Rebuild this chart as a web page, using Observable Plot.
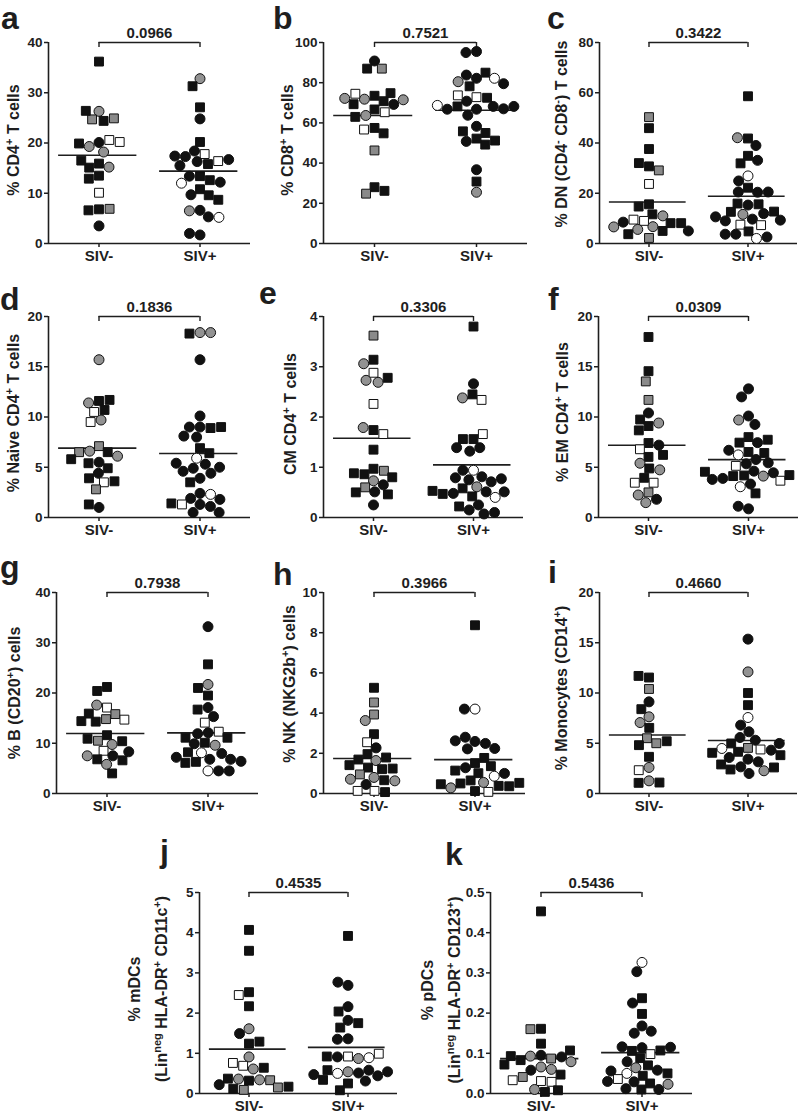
<!DOCTYPE html>
<html><head><meta charset="utf-8">
<script src="https://cdn.jsdelivr.net/npm/d3@7"></script>
<script src="https://cdn.jsdelivr.net/npm/@observablehq/plot@0.6"></script>
<style>
html,body{margin:0;padding:0;background:#fff;}
#root{position:relative;width:800px;height:1113px;overflow:hidden;font-family:"Liberation Sans",Arial,sans-serif;}
#overlay{position:absolute;left:0;top:0;pointer-events:none;}
</style></head><body><div id="root"></div>
<script>
// ---------- data ----------
const groups = ["SIV-", "SIV+"];
// marker kinds: B/G/W = black/gray/white fill, s/c = square/circle
const kinds = ["Bs", "Gs", "Ws", "Bc", "Gc", "Wc"];

const aNeg = [[36.2,"Bs"],[26.3,"Gc"],[24.7,"Gs"],[24.4,"Bs"],[24.9,"Gs"],[26.4,"Bs"],[20.1,"Bc"],[19.3,"Gc"],[20.6,"Ws"],[18.2,"Gc"],[19.9,"Bs"],[20.2,"Ws"],[15.9,"Bs"],[15.1,"Bs"],[15.2,"Gc"],[16.5,"Bs"],[13.5,"Bs"],[12.9,"Bs"],[10.1,"Ws"],[6.8,"Bs"],[6.6,"Bs"],[6.9,"Gs"],[3.5,"Bc"]];
const aPos = [[32.8,"Gc"],[31.3,"Bs"],[27.1,"Bs"],[24.8,"Bc"],[20.2,"Bs"],[18.4,"Bc"],[17.8,"Ws"],[17.3,"Bc"],[16.3,"Bc"],[15.8,"Bs"],[16.4,"Ws"],[15.5,"Bc"],[16.7,"Bc"],[17.4,"Bc"],[13.4,"Bs"],[13.4,"Bc"],[12.6,"Bs"],[12.0,"Wc"],[12.2,"Bc"],[10.8,"Bs"],[9.7,"Bc"],[9.6,"Bs"],[8.7,"Bs"],[6.6,"Bc"],[6.5,"Gc"],[5.3,"Bc"],[5.2,"Wc"],[1.7,"Bc"],[2.0,"Bc"]];

const bNeg = [[90.8,"Bc"],[87.0,"Bs"],[87.0,"Gs"],[73.5,"Bs"],[71.8,"Gc"],[70.8,"Bs"],[74.8,"Bs"],[74.5,"Ws"],[69.2,"Bc"],[69.3,"Bs"],[71.5,"Gc"],[72.2,"Gc"],[66.7,"Bs"],[63.7,"Gc"],[65.3,"Ws"],[63.0,"Bs"],[57.5,"Bs"],[56.7,"Ws"],[54.8,"Bs"],[46.3,"Gs"],[28.0,"Bs"],[24.8,"Gs"],[26.2,"Bs"]];
const bPos = [[95.5,"Bc"],[95.0,"Bc"],[82.2,"Bc"],[83.8,"Bc"],[85.0,"Bs"],[82.2,"Wc"],[80.5,"Gc"],[79.5,"Bc"],[78.2,"Bs"],[72.8,"Ws"],[70.8,"Bc"],[72.5,"Bs"],[73.7,"Ws"],[68.2,"Bc"],[68.2,"Bs"],[66.8,"Bc"],[67.0,"Bc"],[66.8,"Bc"],[68.2,"Bc"],[68.7,"Wc"],[63.8,"Bc"],[58.3,"Bc"],[52.2,"Bs"],[50.8,"Bc"],[55.0,"Bs"],[55.8,"Bs"],[49.2,"Bs"],[51.2,"Bs"],[36.7,"Bc"],[30.8,"Bs"],[25.5,"Gc"]];

const cNeg = [[50.3,"Gs"],[45.9,"Bs"],[37.6,"Bs"],[30.7,"Bs"],[32.0,"Bs"],[29.1,"Gs"],[23.7,"Ws"],[15.6,"Bs"],[14.7,"Bs"],[11.6,"Bs"],[11.0,"Gc"],[9.0,"Ws"],[9.5,"Ws"],[8.1,"Bs"],[8.5,"Bc"],[8.1,"Bs"],[6.7,"Gc"],[6.6,"Gc"],[5.6,"Gc"],[5.0,"Bs"],[5.0,"Bc"],[3.7,"Bs"],[2.2,"Gs"]];
const cPos = [[58.6,"Bs"],[41.8,"Bs"],[42.1,"Gc"],[39.0,"Bc"],[34.9,"Bs"],[31.9,"Bs"],[33.1,"Bc"],[26.9,"Wc"],[24.9,"Bc"],[22.2,"Bs"],[20.5,"Bc"],[20.4,"Bc"],[20.5,"Bc"],[15.3,"Bc"],[15.9,"Bs"],[15.6,"Bs"],[12.6,"Bs"],[11.6,"Gc"],[11.9,"Bc"],[12.7,"Bs"],[9.7,"Bc"],[9.0,"Bc"],[9.3,"Bc"],[10.6,"Bc"],[7.5,"Ws"],[7.3,"Ws"],[4.8,"Bs"],[3.7,"Bc"],[2.0,"Wc"],[2.6,"Bc"],[3.7,"Bc"]];

const dNeg = [[15.7,"Gc"],[11.6,"Bs"],[11.4,"Gc"],[11.7,"Bs"],[10.7,"Bs"],[10.5,"Ws"],[9.7,"Gc"],[9.5,"Ws"],[7.1,"Gs"],[6.6,"Gc"],[6.5,"Bs"],[6.1,"Gc"],[6.5,"Gs"],[5.5,"Bc"],[5.4,"Bs"],[5.8,"Bs"],[4.9,"Bs"],[4.4,"Bc"],[3.9,"Bs"],[3.5,"Ws"],[3.6,"Bs"],[2.8,"Gs"],[1.0,"Bc"],[1.3,"Bs"]];
const dPos = [[18.4,"Gc"],[18.3,"Bs"],[18.4,"Gc"],[15.7,"Bc"],[10.1,"Bc"],[9.0,"Bc"],[9.0,"Bc"],[8.9,"Bs"],[9.0,"Bs"],[8.1,"Bc"],[8.0,"Bc"],[6.9,"Bs"],[5.9,"Wc"],[6.4,"Bs"],[5.3,"Bc"],[4.9,"Bc"],[4.4,"Bc"],[4.6,"Bc"],[5.0,"Bc"],[5.4,"Bc"],[3.9,"Bc"],[3.5,"Bs"],[2.4,"Bc"],[1.9,"Bc"],[2.3,"Wc"],[1.3,"Bc"],[1.1,"Bc"],[1.8,"Bc"],[1.3,"Ws"],[1.4,"Bs"],[0.5,"Bc"],[0.5,"Bc"]];

const eNeg = [[3.62,"Gs"],[3.14,"Bs"],[3.06,"Gc"],[2.88,"Ws"],[2.73,"Gc"],[2.69,"Gc"],[2.78,"Bs"],[2.26,"Ws"],[1.74,"Bs"],[1.79,"Gc"],[1.66,"Ws"],[1.35,"Bs"],[0.97,"Bs"],[0.86,"Bs"],[0.93,"Gs"],[0.88,"Bs"],[0.80,"Bs"],[0.73,"Gc"],[0.65,"Bc"],[0.60,"Gs"],[0.51,"Bc"],[0.46,"Bs"],[0.50,"Bs"],[0.25,"Bc"]];
const ePos = [[3.80,"Bs"],[2.66,"Bc"],[2.45,"Bs"],[2.34,"Ws"],[2.38,"Gc"],[1.56,"Bs"],[1.56,"Bs"],[1.66,"Ws"],[1.39,"Bc"],[1.32,"Bc"],[1.39,"Bc"],[0.94,"Wc"],[0.94,"Bc"],[0.81,"Bc"],[0.75,"Bc"],[0.79,"Bc"],[0.71,"Bc"],[0.77,"Bc"],[0.61,"Gc"],[0.58,"Bs"],[0.51,"Bc"],[0.48,"Bc"],[0.42,"Bs"],[0.40,"Wc"],[0.47,"Bs"],[0.51,"Bc"],[0.53,"Bs"],[0.25,"Bc"],[0.15,"Bc"],[0.22,"Bs"],[0.07,"Bc"],[0.10,"Bc"]];

const fNeg = [[17.96,"Bs"],[14.56,"Bs"],[13.54,"Gs"],[11.7,"Gs"],[10.4,"Bc"],[9.75,"Bs"],[9.1,"Bs"],[9.4,"Gc"],[8.67,"Bs"],[7.41,"Bs"],[6.79,"Ws"],[7.2,"Bc"],[6.03,"Bs"],[6.23,"Bs"],[5.4,"Gc"],[4.88,"Bs"],[4.74,"Gc"],[3.95,"Bs"],[3.46,"Ws"],[3.46,"Ws"],[2.5,"Gs"],[2.24,"Gc"],[1.48,"Gc"],[1.81,"Bc"]];
const fPos = [[12.8,"Bc"],[12.0,"Bc"],[10.1,"Bc"],[9.7,"Gc"],[9.26,"Bc"],[8.0,"Bs"],[7.45,"Bs"],[7.45,"Bc"],[7.74,"Bs"],[6.52,"Bs"],[6.23,"Wc"],[5.77,"Bc"],[6.42,"Bs"],[6.69,"Bc"],[5.34,"Bc"],[5.14,"Ws"],[5.44,"Bc"],[4.61,"Bc"],[4.18,"Bs"],[4.12,"Gc"],[4.12,"Bs"],[4.45,"Bc"],[3.89,"Bc"],[3.66,"Ws"],[3.79,"Bc"],[4.22,"Bs"],[4.55,"Bs"],[3.33,"Bc"],[3.06,"Wc"],[2.4,"Bs"],[0.86,"Bc"],[1.12,"Bc"]];

const gNeg = [[21.2,"Bs"],[20.4,"Bs"],[17.1,"Ws"],[17.6,"Gc"],[15.8,"Gs"],[14.8,"Gs"],[14.3,"Bs"],[15.9,"Bs"],[14.7,"Ws"],[14.4,"Bs"],[11.6,"Bs"],[10.5,"Gs"],[9.75,"Gc"],[10.4,"Bs"],[10.9,"Bs"],[8.5,"Ws"],[7.5,"Bc"],[6.8,"Bs"],[6.6,"Bs"],[7.5,"Gc"],[8.3,"Bc"],[5.8,"Gc"],[4.0,"Bs"]];
const gPos = [[33.2,"Bc"],[25.7,"Bs"],[21.7,"Gc"],[21.0,"Bs"],[19.5,"Bs"],[17.1,"Bc"],[16.7,"Bs"],[15.3,"Bc"],[14.1,"Ws"],[12.1,"Bc"],[11.9,"Bc"],[12.3,"Ws"],[11.1,"Bs"],[10.1,"Bs"],[9.6,"Gc"],[9.9,"Bc"],[11.1,"Bs"],[8.1,"Wc"],[7.95,"Bc"],[8.2,"Bs"],[6.8,"Bc"],[6.8,"Bc"],[6.3,"Bs"],[6.1,"Bs"],[7.2,"Bc"],[6.4,"Bc"],[4.5,"Wc"],[4.5,"Bc"],[4.5,"Bc"]];

const hNeg = [[5.26,"Bs"],[4.53,"Gs"],[3.93,"Gs"],[3.63,"Gc"],[2.95,"Bs"],[2.55,"Ws"],[2.27,"Bc"],[1.96,"Bs"],[1.64,"Gc"],[1.79,"Bs"],[1.69,"Bs"],[1.29,"Bs"],[1.21,"Bs"],[1.24,"Bs"],[1.41,"Bs"],[0.95,"Gs"],[0.80,"Gc"],[0.66,"Bs"],[0.63,"Gc"],[0.71,"Gc"],[0.45,"Bc"],[0.13,"Ws"],[0.07,"Bs"],[0.13,"Ws"]];
const hPos = [[8.37,"Bs"],[4.2,"Wc"],[4.2,"Bc"],[2.59,"Bc"],[2.8,"Bc"],[2.22,"Bc"],[2.49,"Bc"],[2.62,"Bc"],[2.24,"Bc"],[1.51,"Bs"],[1.77,"Bs"],[1.28,"Bc"],[1.36,"Bs"],[1.14,"Bs"],[1.01,"Bs"],[0.86,"Wc"],[1.0,"Bc"],[0.65,"Bs"],[0.55,"Gc"],[0.5,"Bs"],[0.38,"Bs"],[0.12,"Bs"],[0.08,"Ws"],[0.28,"Gc"],[0.36,"Bs"],[0.46,"Bs"],[0.53,"Bs"]];

const iNeg = [[11.54,"Bs"],[11.7,"Bs"],[10.4,"Gs"],[9.12,"Bc"],[8.39,"Bs"],[7.63,"Gc"],[7.06,"Gc"],[6.53,"Bs"],[5.5,"Gs"],[5.0,"Gs"],[4.81,"Bs"],[5.2,"Bs"],[3.65,"Bs"],[2.59,"Gc"],[2.32,"Ws"],[1.26,"Gc"],[1.06,"Bs"],[1.09,"Bs"]];
const iPos = [[15.36,"Bc"],[12.1,"Gc"],[10.0,"Bs"],[8.79,"Bs"],[7.56,"Wc"],[6.8,"Bc"],[6.14,"Bc"],[5.57,"Bc"],[5.3,"Bc"],[4.98,"Bs"],[4.54,"Gs"],[4.38,"Ws"],[4.15,"Bs"],[4.31,"Bc"],[4.48,"Wc"],[4.98,"Bc"],[3.81,"Bs"],[3.42,"Bc"],[3.15,"Bc"],[3.58,"Bc"],[4.05,"Bs"],[2.65,"Bc"],[2.39,"Bs"],[1.99,"Bc"],[2.26,"Gc"],[2.59,"Bs"],[2.89,"Bs"]];

const jNeg = [[4.07,"Bs"],[3.55,"Bs"],[2.52,"Bs"],[2.45,"Ws"],[2.17,"Bs"],[1.61,"Gc"],[1.49,"Bc"],[1.24,"Bs"],[1.29,"Bs"],[0.91,"Gc"],[0.69,"Ws"],[0.61,"Gc"],[0.64,"Bs"],[0.76,"Ws"],[0.32,"Bs"],[0.36,"Gc"],[0.34,"Gc"],[0.37,"Bs"],[0.33,"Gs"],[0.22,"Bc"],[0.15,"Gs"],[0.09,"Gs"],[0.12,"Bs"],[0.17,"Bs"]];
const jPos = [[3.92,"Bs"],[2.69,"Bc"],[2.77,"Bc"],[2.16,"Bc"],[2.04,"Bs"],[1.82,"Bc"],[1.64,"Bs"],[1.75,"Bs"],[1.36,"Bc"],[1.35,"Bc"],[0.92,"Ws"],[0.91,"Bc"],[0.87,"Gc"],[0.89,"Wc"],[0.92,"Bs"],[0.99,"Ws"],[0.54,"Gc"],[0.50,"Wc"],[0.51,"Bc"],[0.58,"Bs"],[0.58,"Bc"],[0.31,"Bc"],[0.34,"Bs"],[0.25,"Bs"],[0.44,"Bc"],[0.47,"Bc"],[0.54,"Bc"],[0.08,"Bs"]];

const kNeg = [[0.453,"Bs"],[0.161,"Bs"],[0.160,"Gs"],[0.124,"Bs"],[0.095,"Bc"],[0.093,"Gc"],[0.087,"Gs"],[0.083,"Bs"],[0.091,"Bc"],[0.093,"Bs"],[0.107,"Bs"],[0.079,"Gc"],[0.066,"Gc"],[0.072,"Bs"],[0.058,"Bc"],[0.060,"Gc"],[0.047,"Bs"],[0.041,"Gs"],[0.031,"Ws"],[0.029,"Ws"],[0.033,"Ws"],[0.010,"Gc"],[0.004,"Bs"],[0.008,"Bs"]];
const kPos = [[0.326,"Wc"],[0.303,"Bc"],[0.237,"Bs"],[0.225,"Bc"],[0.198,"Bs"],[0.168,"Bc"],[0.150,"Bc"],[0.155,"Bc"],[0.114,"Bc"],[0.106,"Bs"],[0.098,"Ws"],[0.107,"Bs"],[0.088,"Bs"],[0.116,"Bc"],[0.115,"Bc"],[0.070,"Bs"],[0.064,"Gc"],[0.079,"Bc"],[0.058,"Bc"],[0.050,"Wc"],[0.050,"Bs"],[0.044,"Bs"],[0.036,"Ws"],[0.056,"Bc"],[0.029,"Bc"],[0.025,"Bs"],[0.012,"Bc"],[0.010,"Bs"],[0.010,"Bc"],[0.023,"Gc"],[0.030,"Bc"]];

const aTicks = [0,10,20,30,40];
const bTicks = [0,20,40,60,80,100];
const cTicks = [0,20,40,60,80];
const dTicks = [0,5,10,15,20];
const eTicks = [0,1,2,3,4];
const fTicks = [0,5,10,15,20];
const gTicks = [0,10,20,30,40];
const hTicks = [0,2,4,6,8,10];
const iTicks = [0,5,10,15,20];
const jTicks = [0,1,2,3,4,5];
const kTicks = [0,0.1,0.2,0.3,0.4,0.5];

const pValues = {a:"0.0966", b:"0.7521", c:"0.3422", d:"0.1836", e:"0.3306", f:"0.0309", g:"0.7938", h:"0.3966", i:"0.4660", j:"0.4535", k:"0.5436"};
const yTitles = {
  a: ["% CD4^{+} T cells"],
  b: ["% CD8^{+} T cells"],
  c: ["% DN (CD4^{-} CD8^{-}) T cells"],
  d: ["% Naive CD4^{+} T cells"],
  e: ["CM CD4^{+} T cells"],
  f: ["% EM CD4^{+} T cells"],
  g: ["% B (CD20^{+}) cells"],
  h: ["% NK (NKG2b^{+}) cells"],
  i: ["% Monocytes (CD14^{+})"],
  j: ["% mDCs", "(Lin^{neg} HLA-DR^{+} CD11c^{+})"],
  k: ["% pDCs", "(Lin^{neg} HLA-DR^{+} CD123^{+})"]
};

// ---------- styling / layout ----------
const kindSymbols = ["square","square","square","circle","circle","circle"];
const kindFills = ["#111111","#8a8a8a","#ffffff","#111111","#929292","#ffffff"];
const INK = "#1e1e1e";
const FONT = "'Liberation Sans', Arial, Helvetica, sans-serif";
const ML = 45, MR = 6, MT = 28, MB = 30, H = 201;

const layout = {
  a: {x: 48,  y: 42,  w: 202, letter: [1, 29],    title: {x: [19], y: 140}},
  b: {x: 322, y: 42,  w: 205, letter: [273, 29],  title: {x: [293], y: 140}},
  c: {x: 598, y: 42,  w: 199, letter: [547, 29],  title: {x: [567], y: 134}},
  d: {x: 48,  y: 316, w: 202, letter: [0, 310],   title: {x: [19], y: 413}},
  e: {x: 323, y: 316, w: 200, letter: [259, 304], title: {x: [296], y: 414}},
  f: {x: 598, y: 316, w: 200, letter: [548, 310], title: {x: [568], y: 412}},
  g: {x: 55,  y: 592, w: 203, letter: [0, 578],   title: {x: [20], y: 693}},
  h: {x: 323, y: 592, w: 202, letter: [273, 585], title: {x: [295], y: 684}},
  i: {x: 598, y: 592, w: 199, letter: [548, 583], title: {x: [567], y: 688}},
  j: {x: 198, y: 892, w: 199, letter: [160, 862], title: {x: [140, 167], y: 989}},
  k: {x: 490, y: 892, w: 202, letter: [445, 865], title: {x: [433, 460], y: 990}}
};

const panels = [
  ["a", aNeg, aPos, aTicks], ["b", bNeg, bPos, bTicks], ["c", cNeg, cPos, cTicks],
  ["d", dNeg, dPos, dTicks], ["e", eNeg, ePos, eTicks], ["f", fNeg, fPos, fTicks],
  ["g", gNeg, gPos, gTicks], ["h", hNeg, hPos, hTicks], ["i", iNeg, iPos, iTicks],
  ["j", jNeg, jPos, jTicks], ["k", kNeg, kPos, kTicks]
];

const root = document.getElementById("root");

function makePanel(id, neg, pos, ticks) {
  const L = layout[id];
  const data = neg.map(([v, k]) => ({g: groups[0], v, k}))
    .concat(pos.map(([v, k]) => ({g: groups[1], v, k})));
  const means = groups.map(g => ({g, m: d3.mean(data.filter(d => d.g === g), d => d.v)}));
  const ymax = d3.max(ticks);
  const bracket = groups.map((g, i) => ({g, a: i ? -1 : 0, b: i ? 0 : 1}));
  const fmt = ymax < 1 ? d3.format(".1f") : d3.format("d");
  const svg = Plot.plot({
    width: ML + L.w + MR, height: MT + H + MB,
    marginLeft: ML, marginRight: MR, marginTop: MT, marginBottom: MB,
    style: {fontFamily: FONT, fontWeight: "bold", fontSize: "13px", color: INK, background: "transparent", overflow: "visible"},
    fx: {domain: groups, padding: 0},
    x: {domain: [-1, 1], axis: null},
    y: {domain: [0, ymax]},
    symbol: {domain: kinds, range: kindSymbols},
    color: {type: "ordinal", domain: kinds, range: kindFills},
    marks: [
      Plot.axisY({ticks, tickFormat: fmt, tickSize: 4, tickPadding: 2, fontSize: 13.5, fontWeight: "bold", fill: INK, stroke: INK, strokeWidth: 1.5, label: null, facetAnchor: "left"}),
      Plot.axisFx({anchor: "bottom", tickSize: 4, tickPadding: 3, fontSize: 15, fontWeight: "bold", fill: INK, stroke: INK, strokeWidth: 1.5, label: null}),
      Plot.ruleX(data.slice(0, 1), {fx: "g", x: -1, y1: 0, y2: ymax, stroke: INK, strokeWidth: 1.6}),
      Plot.ruleY([0], {stroke: INK, strokeWidth: 1.6}),
      Plot.ruleY(bracket, {fx: "g", y: ymax, x1: "a", x2: "b", stroke: INK, strokeWidth: 1.4}),
      Plot.ruleX(bracket, {fx: "g", x: 0, y1: ymax, y2: ymax * 0.975, stroke: INK, strokeWidth: 1.4}),
      Plot.text(data.slice(0, 1), {fx: "g", x: 1, y: ymax, text: () => pValues[id], dy: -5, lineAnchor: "bottom", fontSize: 15, fontWeight: "bold", fill: INK}),
      Plot.ruleY(means, {fx: "g", y: "m", x1: -0.8, x2: 0.75, stroke: INK, strokeWidth: 1.6}),
      Plot.dot(data, Plot.dodgeX({anchor: "middle", padding: 0.6, r: 5, fx: "g", y: "v", symbol: "k", fill: "k", stroke: "#111", strokeWidth: 1}))
    ]
  });
  svg.style.position = "absolute";
  svg.style.left = (L.x - ML) + "px";
  svg.style.top = (L.y - MT) + "px";
  svg.style.maxWidth = "none";
  root.appendChild(svg);
}

panels.forEach(([id, neg, pos, ticks]) => makePanel(id, neg, pos, ticks));

// ---------- overlay: panel letters and rotated axis titles ----------
function esc(s) { return s.replace(/&/g, "&amp;").replace(/</g, "&lt;"); }
function rich(str, size) {
  const parts = str.split(/\^\{([^}]*)\}/);
  let out = "", shifted = false;
  parts.forEach((t, i) => {
    if (!t) return;
    if (i % 2) { out += `<tspan dy="${shifted ? 0 : -6}" font-size="${Math.round(size * 0.68)}">${esc(t)}</tspan>`; shifted = true; }
    else { out += `<tspan dy="${shifted ? 6 : 0}">${esc(t)}</tspan>`; shifted = false; }
  });
  return out;
}
let ov = `<svg id="overlay" width="800" height="1113" xmlns="http://www.w3.org/2000/svg" font-family="${FONT}" font-weight="bold" fill="${INK}">`;
for (const id of Object.keys(layout)) {
  const L = layout[id];
  ov += `<text x="${L.letter[0]}" y="${L.letter[1]}" font-size="32">${id}</text>`;
  yTitles[id].forEach((line, li) => {
    ov += `<text transform="translate(${L.title.x[li]},${L.title.y}) rotate(-90)" text-anchor="middle" font-size="16">${rich(line, 16)}</text>`;
  });
}
ov += `</svg>`;
root.insertAdjacentHTML("beforeend", ov);
</script></body></html>
